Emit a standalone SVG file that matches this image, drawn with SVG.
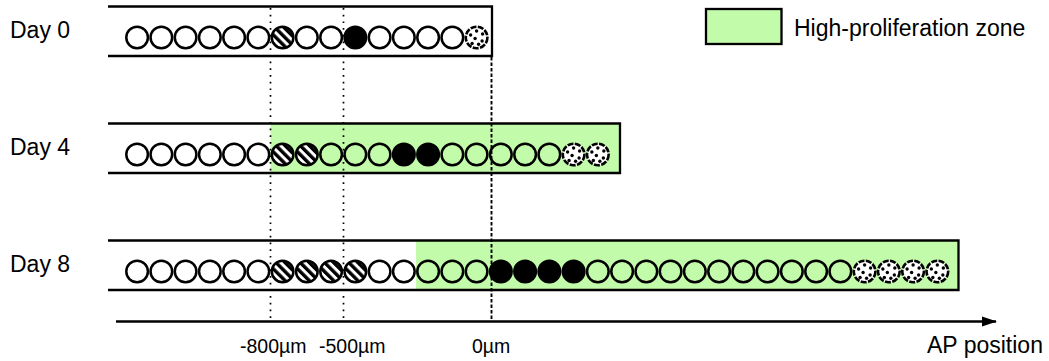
<svg xmlns="http://www.w3.org/2000/svg" xmlns:xlink="http://www.w3.org/1999/xlink" width="1049" height="361" viewBox="0 0 1049 361">
<style>
.lbl{font-family:"Liberation Sans",Arial,sans-serif;font-size:23px;fill:#000}
.tick{font-family:"Liberation Sans",Arial,sans-serif;font-size:19.5px;fill:#000}
.box{fill:none;stroke:#000;stroke-width:2.3}
.zone{fill:#c2fbaa;stroke:none}
.c{stroke:#000;stroke-width:2.5}
.dotl{fill:none;stroke:#000;stroke-width:1.7;stroke-dasharray:1.7 5}
.dashl{fill:none;stroke:#000;stroke-width:1.9;stroke-dasharray:3.5 2}
.axis{fill:none;stroke:#000;stroke-width:2.5}
</style>
<defs>
<pattern id="stripes" width="6.4" height="10" patternUnits="userSpaceOnUse" patternTransform="rotate(-45)">
<rect width="6.4" height="10" fill="#fff"/>
<rect width="3.4" height="10" fill="#000"/>
</pattern>
<circle id="cw" r="10.8" class="c" fill="none"/>
<circle id="cb" r="10.8" class="c" fill="#000"/>
<circle id="cs" r="10.8" class="c" fill="url(#stripes)"/>
<g id="cd">
<circle r="10.8" fill="#fff" stroke="#000" stroke-width="2.6" stroke-dasharray="6 1.4"/>
<g fill="#000">
<circle cx="0" cy="-6.5" r="1.7"/>
<circle cx="-6" cy="-2.5" r="1.7"/>
<circle cx="6" cy="-3.5" r="1.7"/>
<circle cx="-1.5" cy="1" r="1.7"/>
<circle cx="5.5" cy="3.5" r="1.7"/>
<circle cx="-4.5" cy="6" r="1.7"/>
<circle cx="2" cy="6.8" r="1.7"/>
</g>
</g>
<marker id="arr" markerWidth="15" markerHeight="12" refX="14" refY="6" orient="auto" markerUnits="userSpaceOnUse">
<path d="M0,1 L15,6 L0,11 Z" fill="#000"/>
</marker>
</defs>

<g id="legend">
<rect x="706" y="9" width="75.5" height="35" fill="#c2fbaa" stroke="#000" stroke-width="2.3"/>
<text class="lbl" x="794" y="35.5">High-proliferation zone</text>
</g>

<g id="day0">
<text class="lbl" x="10" y="38">Day 0</text>
<path class="box" d="M108 6.5 H492 V56 H108"/>
<g transform="translate(0,37.5)">
<use xlink:href="#cw" x="137.1"/>
<use xlink:href="#cw" x="161.35"/>
<use xlink:href="#cw" x="185.6"/>
<use xlink:href="#cw" x="209.85"/>
<use xlink:href="#cw" x="234.1"/>
<use xlink:href="#cw" x="258.35"/>
<use xlink:href="#cs" x="282.6"/>
<use xlink:href="#cw" x="306.85"/>
<use xlink:href="#cw" x="331.1"/>
<use xlink:href="#cb" x="355.35"/>
<use xlink:href="#cw" x="379.6"/>
<use xlink:href="#cw" x="403.85"/>
<use xlink:href="#cw" x="428.1"/>
<use xlink:href="#cw" x="452.35"/>
<use xlink:href="#cd" x="476.6"/>
</g>
</g>

<g id="day4">
<text class="lbl" x="10" y="155">Day 4</text>
<rect class="zone" x="270.5" y="123.5" width="349.5" height="49.5"/>
<path class="box" d="M108 123.5 H620 V173 H108"/>
<g transform="translate(0,154.5)">
<use xlink:href="#cw" x="137.1"/>
<use xlink:href="#cw" x="161.35"/>
<use xlink:href="#cw" x="185.6"/>
<use xlink:href="#cw" x="209.85"/>
<use xlink:href="#cw" x="234.1"/>
<use xlink:href="#cw" x="258.35"/>
<use xlink:href="#cs" x="282.6"/>
<use xlink:href="#cs" x="306.85"/>
<use xlink:href="#cw" x="331.1"/>
<use xlink:href="#cw" x="355.35"/>
<use xlink:href="#cw" x="379.6"/>
<use xlink:href="#cb" x="403.85"/>
<use xlink:href="#cb" x="428.1"/>
<use xlink:href="#cw" x="452.35"/>
<use xlink:href="#cw" x="476.6"/>
<use xlink:href="#cw" x="500.85"/>
<use xlink:href="#cw" x="525.1"/>
<use xlink:href="#cw" x="549.35"/>
<use xlink:href="#cd" x="573.6"/>
<use xlink:href="#cd" x="597.85"/>
</g>
</g>

<g id="day8">
<text class="lbl" x="10" y="272">Day 8</text>
<rect class="zone" x="416" y="240.5" width="542.5" height="49.5"/>
<path class="box" d="M108 240.5 H958.5 V290 H108"/>
<g transform="translate(0,271.5)">
<use xlink:href="#cw" x="137.1"/>
<use xlink:href="#cw" x="161.35"/>
<use xlink:href="#cw" x="185.6"/>
<use xlink:href="#cw" x="209.85"/>
<use xlink:href="#cw" x="234.1"/>
<use xlink:href="#cw" x="258.35"/>
<use xlink:href="#cs" x="282.6"/>
<use xlink:href="#cs" x="306.85"/>
<use xlink:href="#cs" x="331.1"/>
<use xlink:href="#cs" x="355.35"/>
<use xlink:href="#cw" x="379.6"/>
<use xlink:href="#cw" x="403.85"/>
<use xlink:href="#cw" x="428.1"/>
<use xlink:href="#cw" x="452.35"/>
<use xlink:href="#cw" x="476.6"/>
<use xlink:href="#cb" x="500.85"/>
<use xlink:href="#cb" x="525.1"/>
<use xlink:href="#cb" x="549.35"/>
<use xlink:href="#cb" x="573.6"/>
<use xlink:href="#cw" x="597.85"/>
<use xlink:href="#cw" x="622.1"/>
<use xlink:href="#cw" x="646.35"/>
<use xlink:href="#cw" x="670.6"/>
<use xlink:href="#cw" x="694.85"/>
<use xlink:href="#cw" x="719.1"/>
<use xlink:href="#cw" x="743.35"/>
<use xlink:href="#cw" x="767.6"/>
<use xlink:href="#cw" x="791.85"/>
<use xlink:href="#cw" x="816.1"/>
<use xlink:href="#cw" x="840.35"/>
<use xlink:href="#cd" x="864.6"/>
<use xlink:href="#cd" x="888.85"/>
<use xlink:href="#cd" x="913.1"/>
<use xlink:href="#cd" x="937.35"/>
</g>
</g>

<g id="connectors">
<line class="dotl" x1="270.5" y1="8" x2="270.5" y2="321"/>
<line class="dotl" x1="343.5" y1="8" x2="343.5" y2="321"/>
<line class="dashl" x1="491.5" y1="57" x2="491.5" y2="321"/>
<line class="axis" x1="116" y1="321.5" x2="996" y2="321.5" marker-end="url(#arr)"/>
</g>

<g id="axis-labels">
<text class="tick" x="240" y="353">-800µm</text>
<text class="tick" x="319" y="353">-500µm</text>
<text class="tick" x="472" y="353">0µm</text>
<text class="lbl" x="927" y="353">AP position</text>
</g>
</svg>
